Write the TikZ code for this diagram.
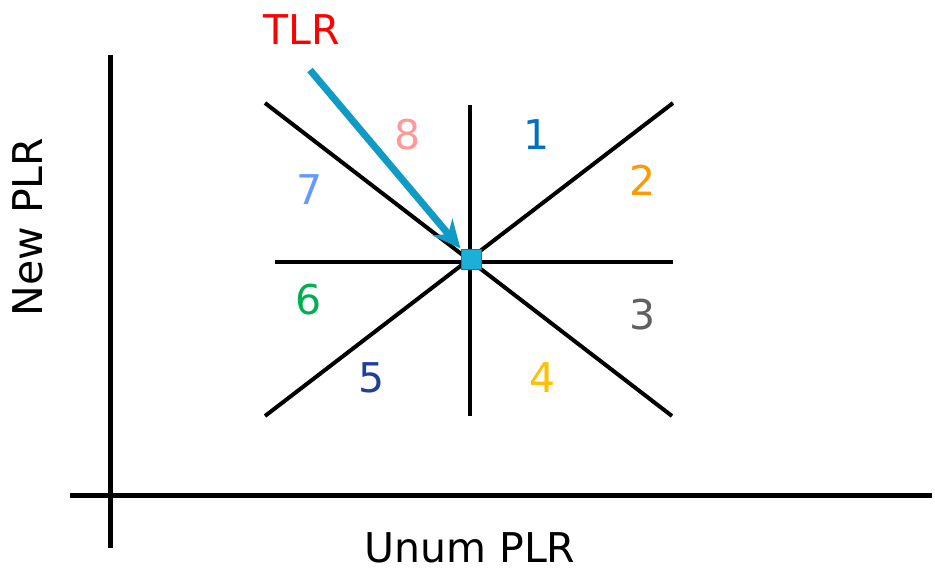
\documentclass[tikz,border=0pt]{standalone}
\usepackage{fontspec}
\setmainfont{DejaVu Sans}
\usepackage{xcolor}
\usepackage{tikz}
\usetikzlibrary{arrows.meta}

\definecolor{tlrred}{RGB}{255,0,0}
\definecolor{tlrarrow}{RGB}{16,155,196}
\definecolor{tlrbox}{RGB}{26,176,216}
\definecolor{zone1}{RGB}{0,112,192}
\definecolor{zone2}{RGB}{255,153,0}
\definecolor{zone3}{RGB}{96,96,96}
\definecolor{zone4}{RGB}{255,192,0}
\definecolor{zone5}{RGB}{32,63,154}
\definecolor{zone6}{RGB}{0,176,80}
\definecolor{zone7}{RGB}{102,153,255}
\definecolor{zone8}{RGB}{255,153,153}

\tikzset{
  lbl/.style={font=\fontsize{20.5}{24}\selectfont, inner sep=0pt},
  axis/.style={line width=2.5pt},
  sector/.style={line width=2pt}
}

\begin{document}
\begin{tikzpicture}[x=0.5pt,y=-0.5pt]
      \useasboundingbox (0,0) rectangle (935,570);
      % axes
      \coordinate (ytop) at (110,55);
      \coordinate (ybot) at (110,548);
      \coordinate (xl) at (70,495);
      \coordinate (xr) at (932,495);
      \draw[axis] (ytop) -- (ybot);
      \draw[axis] (xl) -- (xr);
      \node[lbl,rotate=90] (ylab) at (28,227) {New PLR};
      \node[lbl] (xlab) at (470,548) {Unum PLR};
      % sector lines
      \coordinate (w) at (275,262);  \coordinate (e) at (673,262);
      \coordinate (n) at (470,105);  \coordinate (s) at (470,416);
      \coordinate (nw) at (265,103); \coordinate (se) at (672,416);
      \coordinate (sw) at (265,416); \coordinate (ne) at (673,103);
      \draw[sector] (w) -- (e);
      \draw[sector] (n) -- (s);
      \draw[sector] (nw) -- (se);
      \draw[sector] (sw) -- (ne);
      % numbered sectors
      \foreach \k/\px/\py in {1/537/135,2/643/180,3/643/315,4/543/378,5/372/378,6/309/300,7/310/190,8/408/135}
        \node[lbl,text=zone\k] (z\k) at (\px,\py) {\k};
      % point and TLR arrow
      \node[fill=tlrbox,draw=tlrarrow!80!black,line width=0.5pt,minimum size=10pt,inner sep=0pt] (pt) at (471,259) {};
      \node[lbl,text=tlrred] (tlr) at (302,30) {TLR};
      \coordinate (tail) at (310,70);
      \draw[tlrarrow,line width=3.5pt,-{Stealth[length=14pt,width=13pt]}] (tail) -- (pt.north west);
    \end{tikzpicture}
\end{document}
